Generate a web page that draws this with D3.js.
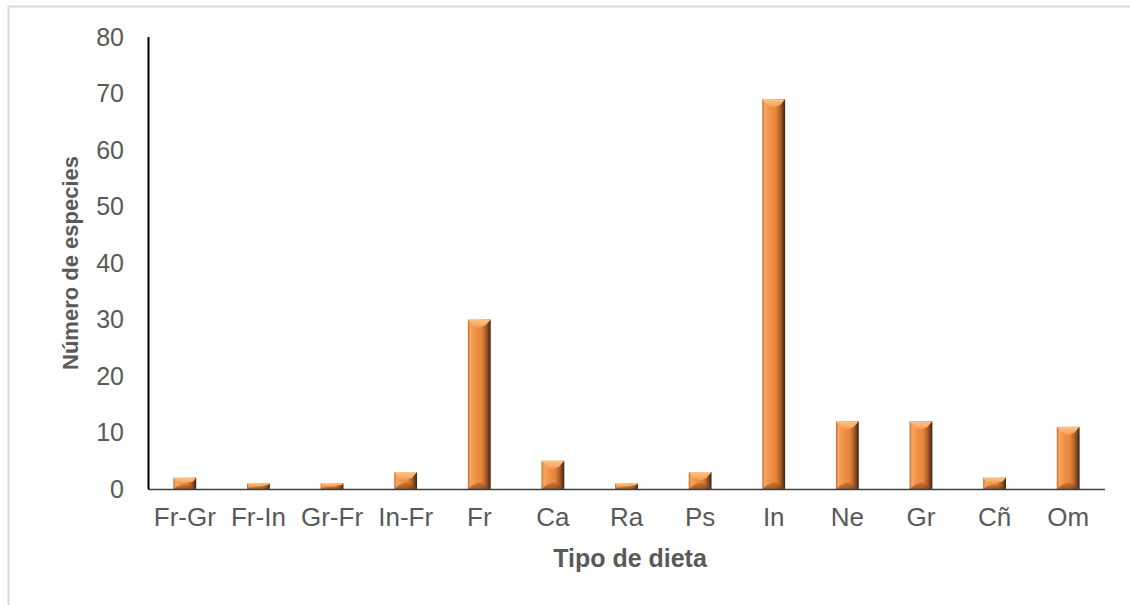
<!DOCTYPE html>
<html>
<head>
<meta charset="utf-8">
<script src="https://cdn.jsdelivr.net/npm/d3@7"></script>
<style>
  html, body { margin: 0; padding: 0; background: #fff; }
  svg { display: block; }
</style>
</head>
<body>
<svg id="chart" width="1130" height="605"></svg>
<script>
// Diet types and number of species per diet
const categories = ["Fr-Gr", "Fr-In", "Gr-Fr", "In-Fr", "Fr", "Ca", "Ra", "Ps", "In", "Ne", "Gr", "Cñ", "Om"];
const speciesCount = [2, 1, 1, 3, 30, 5, 1, 3, 69, 12, 12, 2, 11];
const yTicks = [0, 10, 20, 30, 40, 50, 60, 70, 80];

const svg = d3.select("#chart");
const W = 1130, H = 605;
const margin = { left: 148, right: 25, top: 37, bottom: 116 };
const plotW = W - margin.left - margin.right;
const plotH = H - margin.top - margin.bottom;

// Outer frame of the chart area
svg.append("rect")
  .attr("x", 8.5).attr("y", 6.5)
  .attr("width", W + 20).attr("height", H + 20)
  .attr("fill", "#fff").attr("stroke", "#d9d9d9").attr("stroke-width", 2);

const x = d3.scaleBand().domain(categories).range([0, plotW]).paddingInner(0.69).paddingOuter(0.345);
const y = d3.scaleLinear().domain([0, 80]).range([plotH, 0]);

const g = svg.append("g").attr("transform", `translate(${margin.left},${margin.top})`);

// Gradients for the bevelled bar look
const defs = svg.append("defs");
const sideGrad = defs.append("linearGradient").attr("id", "barBody").attr("x1", "0").attr("x2", "1").attr("y1", "0").attr("y2", "0");
[["0%", "#c06a2a"], ["10%", "#f5a660"], ["30%", "#f09448"], ["60%", "#e4843a"], ["78%", "#b0612a"], ["100%", "#3f2210"]]
  .forEach(([o, c]) => sideGrad.append("stop").attr("offset", o).attr("stop-color", c));
const topGrad = defs.append("linearGradient").attr("id", "barTop").attr("x1", "0").attr("x2", "0").attr("y1", "0").attr("y2", "1");
[["0%", "#fcc48c"], ["100%", "#f59c50"]].forEach(([o, c]) => topGrad.append("stop").attr("offset", o).attr("stop-color", c));
const bottomGrad = defs.append("linearGradient").attr("id", "barBottom").attr("x1", "0").attr("x2", "0").attr("y1", "0").attr("y2", "1");
[["0%", "#b8672a"], ["100%", "#6a3a18"]].forEach(([o, c]) => bottomGrad.append("stop").attr("offset", o).attr("stop-color", c));

const bars = g.selectAll("g.bar").data(categories.map((c, i) => ({ c, v: speciesCount[i] })))
  .join("g").attr("class", "bar");

bars.each(function (d) {
  const sel = d3.select(this);
  const x0 = x(d.c), w = x.bandwidth();
  const y0 = y(d.v), h = y(0) - y(d.v);
  const b = Math.min(w * 0.36, h / 2);
  // body
  sel.append("rect").attr("x", x0).attr("y", y0).attr("width", w).attr("height", h).attr("fill", "url(#barBody)");
  // top facet
  sel.append("path")
    .attr("d", `M${x0},${y0} L${x0 + w},${y0} L${x0 + w - b * 0.6},${y0 + b * 0.7} L${x0 + w / 2},${y0 + b} L${x0 + b * 0.6},${y0 + b * 0.7} Z`)
    .attr("fill", "url(#barTop)");
  // bottom facet
  sel.append("path")
    .attr("d", `M${x0},${y0 + h} L${x0 + w},${y0 + h} L${x0 + w - b * 0.6},${y0 + h - b * 0.5} L${x0 + w / 2},${y0 + h - b * 0.8} L${x0 + b * 0.6},${y0 + h - b * 0.5} Z`)
    .attr("fill", "url(#barBottom)").attr("opacity", 0.6);
});

// X axis line
g.append("line").attr("x1", 0).attr("x2", plotW).attr("y1", plotH + 0.5).attr("y2", plotH + 0.5)
  .attr("stroke", "#404040").attr("stroke-width", 1.5);
// Y axis line
g.append("line").attr("x1", 0.5).attr("x2", 0.5).attr("y1", 0).attr("y2", plotH)
  .attr("stroke", "#000").attr("stroke-width", 2);

const font = "'Liberation Sans', Arial, sans-serif";

// Y axis tick labels
const yAxis = d3.axisLeft(y).tickValues(yTicks).tickSize(0).tickPadding(24);
const yg = g.append("g").call(yAxis);
yg.select(".domain").remove();
yg.selectAll("text").attr("font-family", font).attr("font-size", 25).attr("fill", "#595959");

// X axis tick labels
const xAxis = d3.axisBottom(x).tickSize(0).tickPadding(19);
const xg = g.append("g").attr("transform", `translate(0,${plotH})`).call(xAxis);
xg.select(".domain").remove();
xg.selectAll("text").attr("font-family", font).attr("font-size", 26).attr("fill", "#595959");

// Axis titles
svg.append("text")
  .attr("x", 630).attr("y", 567)
  .attr("text-anchor", "middle")
  .attr("font-family", font).attr("font-size", 25).attr("font-weight", "bold").attr("fill", "#595959")
  .text("Tipo de dieta");
svg.append("text")
  .attr("transform", `translate(78,263) rotate(-90)`)
  .attr("text-anchor", "middle")
  .attr("font-family", font).attr("font-size", 22).attr("font-weight", "bold").attr("fill", "#595959")
  .text("Número de especies");
</script>
</body>
</html>
